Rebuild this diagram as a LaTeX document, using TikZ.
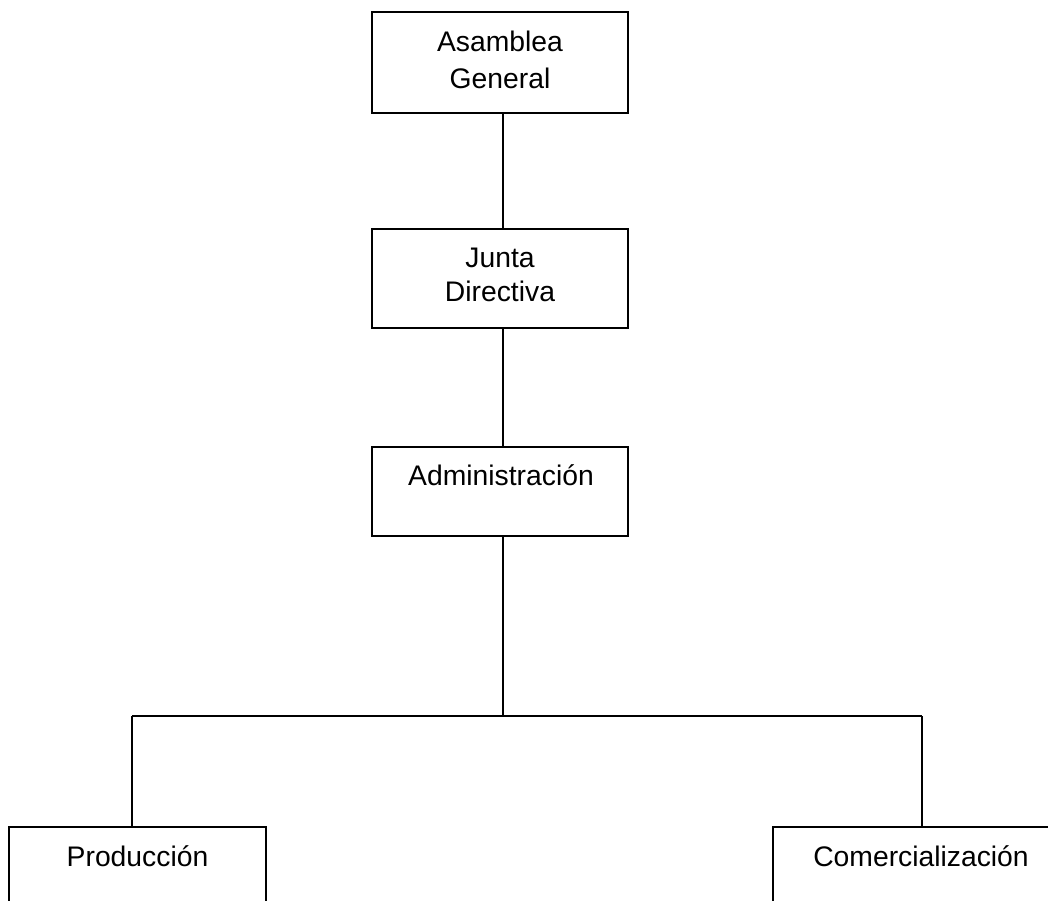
\documentclass[tikz,border=0pt]{standalone}
\usepackage{fontspec}
\setmainfont{Liberation Sans}
\begin{document}
\begin{tikzpicture}[x=1pt,y=-1pt,
  orgbox/.style={draw, line width=1.6pt, rectangle, inner sep=0pt},
  lbl/.style={anchor=base, inner sep=0pt, font=\fontsize{28.3}{34}\selectfont},
  conn/.style={line width=1.6pt}]
\useasboundingbox[fill=white] (0,0) rectangle (1048,900);
\node[orgbox, minimum width=256pt, minimum height=101pt] (A) at (500,62.5) {};
\node[orgbox, minimum width=256pt, minimum height=99pt] (J) at (500,278.5) {};
\node[orgbox, minimum width=256pt, minimum height=89pt] (Ad) at (500,491.5) {};
\node[orgbox, minimum width=257pt, minimum height=93pt] (P) at (137.5,873.5) {};
\node[orgbox, minimum width=296pt, minimum height=93pt] (C) at (921,873.5) {};
\node[lbl] (a1) at (500,51) {Asamblea};
\node[lbl] (a2) at (500,88) {General};
\node[lbl] (j1) at (500,267) {Junta};
\node[lbl] (j2) at (500,301) {Directiva};
\node[lbl] (ad1) at (501,485) {Administración};
\node[lbl] (p1) at (137.5,866) {Producción};
\node[lbl] (c1) at (921,866) {Comercialización};
\coordinate (bl) at (132,716);
\coordinate (br) at (922,716);
\coordinate (mid) at (503,716);
\draw[conn] ([xshift=3pt]A.south) -- ([xshift=3pt]J.north);
\draw[conn] ([xshift=3pt]J.south) -- ([xshift=3pt]Ad.north);
\draw[conn] (mid |- Ad.south) -- (mid);
\draw[conn] (bl) -- (br);
\draw[conn] (bl) -- (bl |- P.north);
\draw[conn] (br) -- (br |- C.north);
\end{tikzpicture}
\end{document}
